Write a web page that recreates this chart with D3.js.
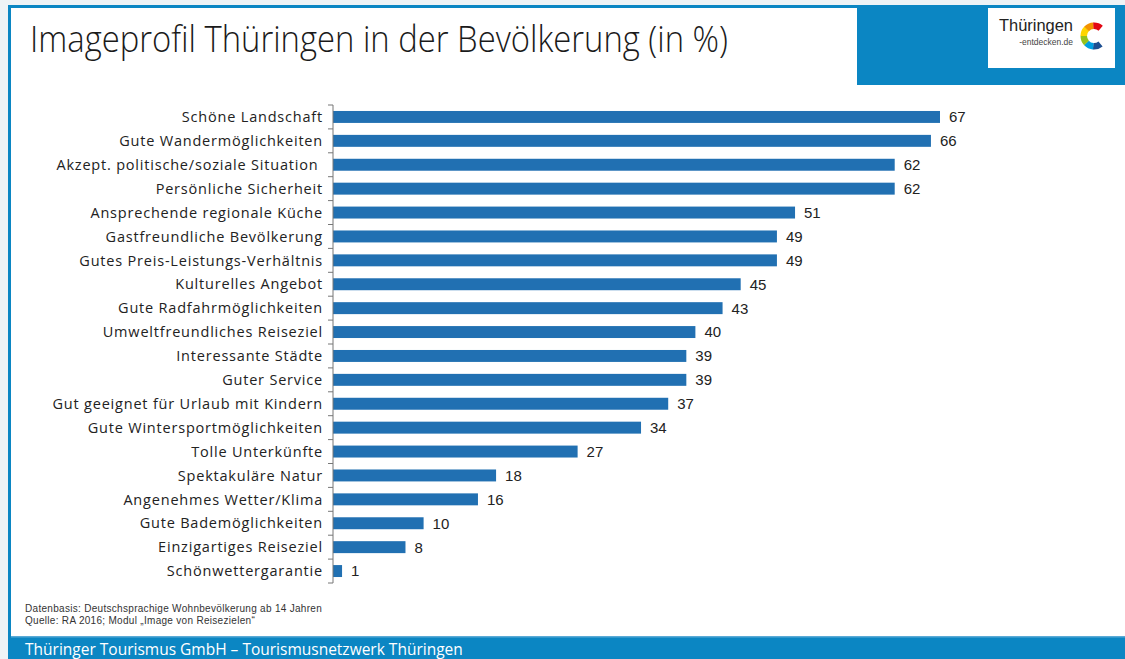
<!DOCTYPE html>
<html>
<head>
<meta charset="utf-8">
<script src="https://cdn.jsdelivr.net/npm/d3@7"></script>
<style>
  body { margin: 0; background: #eef3f6; }
  svg { display: block; }
</style>
</head>
<body>
<div id="chart"></div>
<script>
// Daten
var categories = ['Schöne Landschaft', 'Gute Wandermöglichkeiten', 'Akzept. politische/soziale Situation ',
  'Persönliche Sicherheit', 'Ansprechende regionale Küche', 'Gastfreundliche Bevölkerung',
  'Gutes Preis-Leistungs-Verhältnis', 'Kulturelles Angebot', 'Gute Radfahrmöglichkeiten',
  'Umweltfreundliches Reiseziel', 'Interessante Städte', 'Guter Service',
  'Gut geeignet für Urlaub mit Kindern', 'Gute Wintersportmöglichkeiten', 'Tolle Unterkünfte',
  'Spektakuläre Natur', 'Angenehmes Wetter/Klima', 'Gute Bademöglichkeiten',
  'Einzigartiges Reiseziel', 'Schönwettergarantie'];
var values = [67, 66, 62, 62, 51, 49, 49, 45, 43, 40, 39, 39, 37, 34, 27, 18, 16, 10, 8, 1];

var title = 'Imageprofil Thüringen in der Bevölkerung (in %)';
var notes = ['Datenbasis: Deutschsprachige Wohnbevölkerung ab 14 Jahren',
  'Quelle: RA 2016; Modul \u201eImage von Reisezielen\u201c'];
var footer = 'Thüringer Tourismus GmbH \u2013 Tourismusnetzwerk Thüringen';

var width = 1125, height = 659;
var blue = '#0b86c3';
var barColor = '#2170b2';

var svg = d3.select('#chart').append('svg')
    .attr('width', width)
    .attr('height', height);

// Rahmen
svg.append('rect').attr('x', 0).attr('y', 0).attr('width', width).attr('height', height).attr('fill', '#eef3f6');
svg.append('rect').attr('x', 8).attr('y', 5).attr('width', width - 8).attr('height', height - 5).attr('fill', blue);
svg.append('rect').attr('x', 11).attr('y', 8).attr('width', width - 11).attr('height', 629).attr('fill', '#ffffff');
svg.append('rect').attr('x', 857).attr('y', 5).attr('width', width - 857).attr('height', 80).attr('fill', blue);
svg.append('rect').attr('x', 11).attr('y', 636).attr('width', width - 11).attr('height', 1.5).attr('fill', '#5aaad6');

// Logo
var logo = svg.append('g');
logo.append('rect').attr('x', 988).attr('y', 8).attr('width', 127).attr('height', 60).attr('fill', '#ffffff');
logo.append('text').attr('x', 999).attr('y', 31).text('Thüringen')
    .attr('textLength', 74).attr('lengthAdjust', 'spacingAndGlyphs')
    .style('font-family', 'Liberation Sans, Arial, sans-serif').style('font-size', '16px')
    .attr('fill', '#222');
logo.append('text').attr('x', 1073).attr('y', 45).attr('text-anchor', 'end').text('-entdecken.de')
    .style('font-family', 'Liberation Sans, Arial, sans-serif').style('font-size', '8.5px').attr('fill', '#444');
var ringColors = ['#1d4f91', '#009fe3', '#95c11f', '#ffd500', '#f39200', '#e30613'];
var ringArc = d3.arc().innerRadius(7).outerRadius(13.5);
var ring = logo.append('g').attr('transform', 'translate(1094,36)');
var a0 = Math.PI * 0.78, a1 = Math.PI * 2.22;
var seg = (a1 - a0) / ringColors.length;
ringColors.forEach(function(c, i) {
    ring.append('path')
        .attr('d', ringArc({startAngle: a0 + i * seg, endAngle: a0 + (i + 1) * seg + 0.02}))
        .attr('fill', c);
});

// Titel
svg.append('text')
    .attr('x', 30).attr('y', 52)
    .attr('textLength', 698).attr('lengthAdjust', 'spacingAndGlyphs')
    .text(title)
    .style('font-family', 'Open Sans, sans-serif')
    .style('font-size', '37px')
    .style('font-weight', 300)
    .attr('fill', '#1a1a1a');

// Diagramm
var x0 = 333;
var xScale = d3.scaleLinear().domain([0, 67]).range([x0, 940]);
var yScale = d3.scaleBand().domain(categories).range([105, 583]).paddingInner(0.5).paddingOuter(0.25);

var chart = svg.append('g');

chart.selectAll('rect.bar').data(values)
    .enter().append('rect')
    .attr('class', 'bar')
    .attr('x', xScale(0))
    .attr('y', function(d, i) { return yScale(categories[i]); })
    .attr('width', function(d) { return xScale(d) - xScale(0); })
    .attr('height', yScale.bandwidth())
    .attr('fill', barColor);

chart.selectAll('text.val').data(values)
    .enter().append('text')
    .attr('class', 'val')
    .attr('x', function(d) { return xScale(d) + 9; })
    .attr('y', function(d, i) { return yScale(categories[i]) + yScale.bandwidth() / 2; })
    .attr('dy', '0.36em')
    .text(function(d) { return d; })
    .style('font-family', 'Liberation Sans, Arial, sans-serif')
    .style('font-size', '15px')
    .attr('fill', '#222');

chart.selectAll('text.cat').data(categories)
    .enter().append('text')
    .attr('class', 'cat')
    .attr('x', 323)
    .attr('y', function(d) { return yScale(d) + yScale.bandwidth() / 2; })
    .attr('dy', '0.36em')
    .attr('text-anchor', 'end')
    .text(function(d) { return d; })
    .style('font-family', 'Open Sans, sans-serif')
    .style('font-size', '14.5px')
    .style('letter-spacing', '0.8px')
    .style('white-space', 'pre')
    .attr('fill', '#222');

// Achse mit Teilstrichen zwischen den Kategorien
var step = yScale.step();
var tickYs = categories.map(function(d) { return yScale(d) - (step - yScale.bandwidth()) / 2; });
tickYs.push(yScale(categories[categories.length - 1]) + yScale.bandwidth() + (step - yScale.bandwidth()) / 2);
chart.append('line')
    .attr('x1', x0).attr('x2', x0)
    .attr('y1', tickYs[0]).attr('y2', tickYs[tickYs.length - 1])
    .attr('stroke', '#777').attr('stroke-width', 1);
chart.selectAll('line.tick').data(tickYs)
    .enter().append('line')
    .attr('class', 'tick')
    .attr('x1', x0 - 5).attr('x2', x0)
    .attr('y1', function(d) { return d; }).attr('y2', function(d) { return d; })
    .attr('stroke', '#777').attr('stroke-width', 1);

// Quellen
svg.selectAll('text.note').data(notes)
    .enter().append('text')
    .attr('class', 'note')
    .attr('x', 25)
    .attr('y', function(d, i) { return 612 + i * 12; })
    .text(function(d) { return d; })
    .style('font-family', 'Liberation Sans, Arial, sans-serif')
    .style('font-size', '10px')
    .style('letter-spacing', '0.3px')
    .attr('fill', '#333');

// Fußzeile
svg.append('text')
    .attr('x', 25).attr('y', 655)
    .text(footer)
    .style('font-family', 'Open Sans, sans-serif')
    .style('font-size', '15.5px')
    .attr('fill', '#ffffff');
</script>
</body>
</html>
